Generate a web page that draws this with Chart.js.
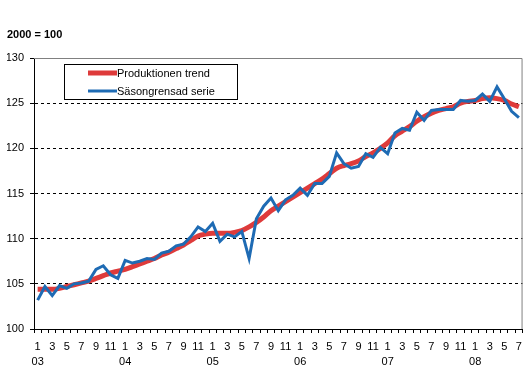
<!DOCTYPE html>
<html>
<head>
<meta charset="utf-8">
<script src="https://cdn.jsdelivr.net/npm/chart.js@4/dist/chart.umd.min.js"></script>
<style>
  html, body { margin: 0; padding: 0; background: #fff; }
  #wrap { width: 529px; height: 373px; }
</style>
</head>
<body>
<div id="wrap"><canvas id="chart" width="529" height="373"></canvas></div>
<script>
// Categories: Jan 2003 .. Jul 2008, odd months labelled, year under January
var years      = ['03', '04', '05', '06', '07', '08'];
var monthCount = 67;

// Series values (2000 = 100)
var trend = [
  104.4, 104.4, 104.4, 104.5, 104.7, 104.9, 105.1, 105.3, 105.6, 105.9, 106.2, 106.4,
  106.6, 106.9, 107.2, 107.5, 107.8, 108.2, 108.5, 108.9, 109.3, 109.8, 110.3, 110.5,
  110.6, 110.6, 110.6, 110.7, 110.9, 111.3, 111.8, 112.4, 113.1, 113.6, 114.1, 114.6,
  115.1, 115.6, 116.1, 116.6, 117.2, 117.8, 118.1, 118.3, 118.6, 119.1, 119.5, 120.0,
  120.6, 121.4, 121.9, 122.4, 123.0, 123.5, 123.9, 124.2, 124.4, 124.6, 125.0, 125.2,
  125.3, 125.5, 125.6, 125.5, 125.3, 124.9, 124.6
];
var seasonal = [
  103.2, 104.7, 103.7, 104.8, 104.5, 105.0, 105.1, 105.3, 106.6, 107.0, 106.0, 105.6,
  107.6, 107.3, 107.5, 107.8, 107.7, 108.4, 108.6, 109.2, 109.4, 110.2, 111.3, 110.8,
  111.7, 109.7, 110.5, 110.2, 110.8, 107.8, 112.2, 113.6, 114.5, 113.1, 114.3, 114.8,
  115.6, 114.8, 116.1, 116.1, 116.9, 119.5, 118.3, 117.8, 118.0, 119.4, 119.0, 120.1,
  119.4, 121.7, 122.2, 122.0, 124.0, 123.1, 124.2, 124.3, 124.3, 124.3, 125.3, 125.2,
  125.3, 126.0, 125.2, 126.8, 125.5, 124.1, 123.4
];

var labels = [];
for (var i = 0; i < monthCount; i++) {
  var m = i % 12 + 1;
  if (m === 1) labels.push(['1', years[Math.floor(i / 12)]]);
  else if (m % 2 === 1) labels.push(String(m));
  else labels.push('');
}

var FONT = "'Liberation Sans', Arial, sans-serif";
Chart.defaults.font.family = FONT;
Chart.defaults.color = '#000';

// plot frame (gray top/right) and the boxed legend inside the plot
var framePlugin = {
  id: 'frame',
  beforeDatasetsDraw: function(chart) {
    var a = chart.chartArea, ctx = chart.ctx;
    ctx.save();
    ctx.strokeStyle = '#808080';
    ctx.lineWidth = 1;
    ctx.beginPath();
    ctx.moveTo(a.left, a.top + 0.5);
    ctx.lineTo(a.right - 0.5, a.top + 0.5);
    ctx.lineTo(a.right - 0.5, a.bottom);
    ctx.stroke();
    ctx.restore();
  },
  afterDraw: function(chart) {
    var ctx = chart.ctx;
    var items = [chart.data.datasets[1], chart.data.datasets[0]];
    ctx.save();
    ctx.fillStyle = '#fff';
    ctx.fillRect(64, 64, 173, 35);
    ctx.strokeStyle = '#000';
    ctx.lineWidth = 1;
    ctx.strokeRect(64.5, 64.5, 173, 35);
    ctx.font = '11px ' + FONT;
    ctx.textBaseline = 'middle';
    items.forEach(function(ds, k) {
      var y = 73 + k * 18;
      ctx.strokeStyle = ds.borderColor;
      ctx.lineWidth = k === 0 ? 5 : 3;
      ctx.beginPath();
      ctx.moveTo(88, y);
      ctx.lineTo(117, y);
      ctx.stroke();
      ctx.fillStyle = '#000';
      ctx.fillText(ds.label, 117, y + 0.5);
    });
    ctx.restore();
  }
};

new Chart(document.getElementById('chart'), {
  type: 'line',
  data: {
    labels: labels,
    datasets: [{
      label: 'Säsongrensad serie',
      data: seasonal,
      borderColor: '#1e6bb4',
      borderWidth: 3,
      pointRadius: 0,
      tension: 0,
      order: 0
    }, {
      label: 'Produktionen trend',
      data: trend,
      borderColor: '#de3b3b',
      borderWidth: 5,
      pointRadius: 0,
      cubicInterpolationMode: 'monotone',
      order: 1
    }]
  },
  options: {
    responsive: false,
    animation: false,
    layout: { padding: { left: 7, right: 5, top: 0, bottom: 0 } },
    plugins: {
      legend: { display: false },
      tooltip: { enabled: false },
      title: {
        display: true,
        text: '2000 = 100',
        align: 'start',
        color: '#000',
        font: { size: 11, weight: 'bold' },
        padding: { top: 28, bottom: 16.8 }
      }
    },
    scales: {
      x: {
        offset: true,
        afterFit: function(s) { s.height = 44; },
        ticks: {
          autoSkip: false, maxRotation: 0, minRotation: 0,
          padding: 7,
          font: { size: 11, lineHeight: 1.35 },
          color: '#000'
        },
        grid: { drawOnChartArea: false, drawTicks: true, tickLength: 4, color: '#000', offset: true },
        border: { color: '#000', width: 1 }
      },
      y: {
        min: 100, max: 130,
        afterFit: function(s) { s.width = 27; },
        ticks: { stepSize: 5, padding: 6, font: { size: 11 }, color: '#000' },
        grid: {
          tickLength: 4,
          tickColor: '#000',
          color: function(c) {
            var v = c.tick && c.tick.value;
            return (v === 100 || v === 130) ? 'rgba(0,0,0,0)' : '#000';
          }
        },
        border: { color: '#000', width: 1, dash: [3, 3] }
      }
    }
  },
  plugins: [framePlugin]
});
</script>
</body>
</html>
